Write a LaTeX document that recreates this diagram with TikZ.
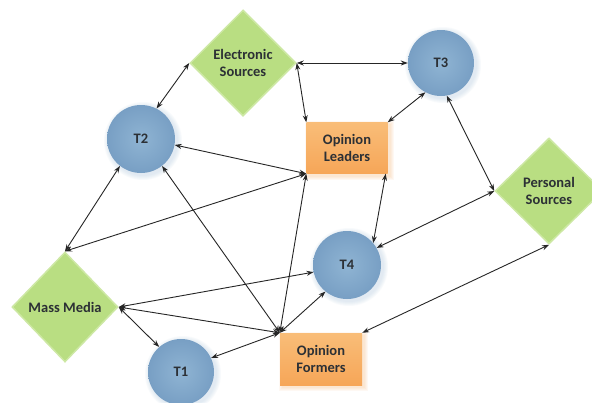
\documentclass[tikz,border=0pt]{standalone}
\usepackage{fontspec}
\setmainfont{Carlito}
\usetikzlibrary{shapes.geometric,arrows.meta}
\definecolor{dgreen}{HTML}{B9DE82}
\definecolor{dgreenedge}{HTML}{CDE8A4}
\definecolor{cblue}{HTML}{8FB4D3}
\definecolor{cblueout}{HTML}{789FC4}
\definecolor{halo}{HTML}{A7C3DC}
\definecolor{otop}{HTML}{F9BD78}
\definecolor{obot}{HTML}{F6A658}
\definecolor{txt}{HTML}{2C3035}
\definecolor{lne}{HTML}{262626}
\tikzset{
  lbl/.style={font=\fontsize{14.5}{17}\selectfont\bfseries, text=txt, align=center},
  dmd/.style={lbl, shape=diamond, aspect=1, inner sep=0pt, fill=dgreen, draw=dgreenedge, line width=1.5pt},
  ball/.style={lbl, circle, inner sep=0pt, minimum size=#1, shading=radial, inner color=cblue, outer color=cblueout},
  ball/.default=67pt,
  obox/.style={lbl, rectangle, inner sep=0pt, minimum width=81pt, minimum height=51pt, shading=axis, top color=otop, bottom color=obot},
  dbl/.style={{Stealth[length=7pt,width=5pt]}-{Stealth[length=7pt,width=5pt]}, line width=0.9pt, draw=lne},
}
\begin{document}
\begin{tikzpicture}[x=1pt,y=-1pt]
\useasboundingbox[fill=white] (0,0) rectangle (592,402);
% soft halos behind the circles and boxes
\foreach \cx/\cy/\r in {141/139/34, 441/63/33, 347/265/34, 181/372/33}{
  \foreach \k in {1,...,5}{
    \fill[halo, opacity=0.07] (\cx+2,\cy+2) circle ({\r+\k});
  }
}
\foreach \cx/\cy in {347/148, 321/359}{
  \foreach \k in {1,...,4}{
    \fill[obot, opacity=0.07] (\cx-40.5-\k+2,\cy-25.5-\k+2) rectangle (\cx+40.5+\k+2,\cy+25.5+\k+2);
  }
}
% nodes
\node[dmd, minimum width=106pt, minimum height=106pt] (ES) at (243,63) {Electronic\\Sources};
\node[dmd, minimum width=108pt, minimum height=106pt] (PS) at (549,191) {Personal\\Sources};
\node[dmd, minimum width=106pt, minimum height=110pt] (MM) at (65,307) {Mass Media};
\node[ball=68pt] (T2) at (141,139) {T2};
\node[ball=66pt] (T3) at (441,63) {T3};
\node[ball=68pt] (T4) at (347,265) {T4};
\node[ball=66pt] (T1) at (181,372) {T1};
\node[obox] (OL) at (347,148) {Opinion\\Leaders};
\node[obox, minimum width=82pt, minimum height=52pt] (OF) at (321,359) {Opinion\\Formers};
\coordinate (hub) at (OF.north west);
% connectors
\draw[dbl] (ES.west) -- (T2.63);
\draw[dbl] (ES.east) -- (T3.west);
\draw[dbl] (ES.east) -- (OL.north west);
\draw[dbl] (T3.242) -- (OL.north east);
\draw[dbl] (T3.280) -- (PS.west);
\draw[dbl] (PS.west) -- (T4.30);
\draw[dbl] ([xshift=-2pt]OL.south east) -- (T4.40);
\draw[dbl] (T2.350) -- (OL.south west);
\draw[dbl] (MM.north) -- (OL.south west);
\draw[dbl] (T2.232) -- (MM.north);
\draw[dbl] (T2.308) -- (hub);
\draw[dbl] (hub) -- (OL.south west);
\draw[dbl] (MM.east) -- (T4.192);
\draw[dbl] (MM.east) -- (hub);
\draw[dbl] (MM.east) -- (T1.131);
\draw[dbl] (hub) -- (T1.25);
\draw[dbl] (hub) -- (T4.231);
\draw[dbl] (PS.south) -- (OF.north east);
\end{tikzpicture}
\end{document}
